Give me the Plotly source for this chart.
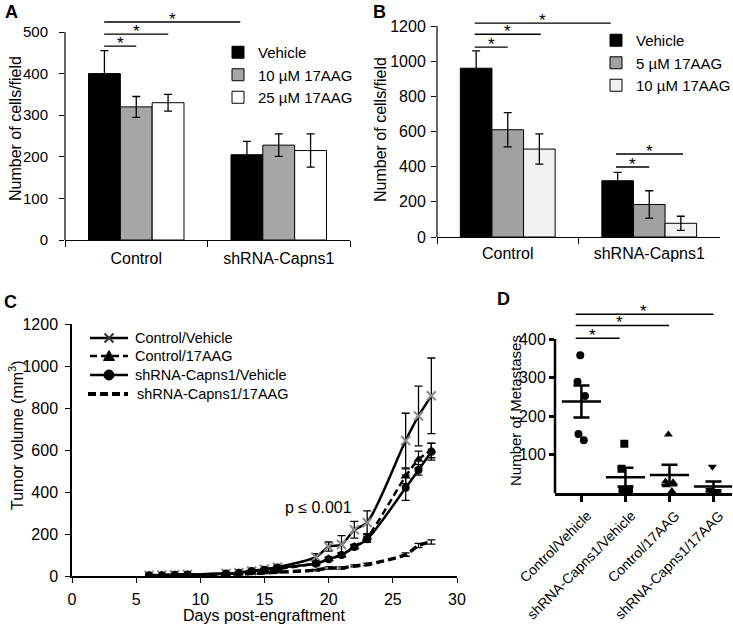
import plotly.graph_objects as go
import numpy as np

W, H = 733, 624
FONT = "Arial, Liberation Sans, sans-serif"

# ---------------- Panel A data ----------------
a_groups = ["Control", "shRNA-Capns1"]
a_names = ["Vehicle", "10 µM 17AAG", "25 µM 17AAG"]
a_vehicle = [400, 205]
a_vehicle_err = [55, 32]
a_10 = [320, 228]
a_10_err = [25, 27]
a_25 = [330, 215]
a_25_err = [20, 40]
a_sig_x0 = [-0.225, -0.225, -0.225]
a_sig_x1 = [0.0, 0.225, 0.73]
a_sig_y = [466, 495, 524]
a_yticks = [0, 100, 200, 300, 400, 500]

# ---------------- Panel B data ----------------
b_groups = ["Control", "shRNA-Capns1"]
b_names = ["Vehicle", "5 µM 17AAG", "10 µM 17AAG"]
b_vehicle = [960, 320]
b_vehicle_err = [98, 48]
b_5 = [610, 185]
b_5_err = [97, 78]
b_10 = [500, 78]
b_10_err = [86, 40]
b_sig_x0 = [-0.233, -0.233, -0.233, 0.765, 0.765]
b_sig_x1 = [0.0, 0.233, 0.728, 1.0, 1.238]
b_sig_y = [1080, 1153, 1216, 398, 472]
b_yticks = [0, 200, 400, 600, 800, 1000, 1200]

# ---------------- Panel C data ----------------
c_names = ["Control/Vehicle", "Control/17AAG", "shRNA-Capns1/Vehicle", "shRNA-Capns1/17AAG"]
c_days = [6, 7, 8, 9, 12, 13, 14, 15, 16, 19, 20, 21, 22, 23, 26, 27, 28]
c_ctrl_veh = [3, 4, 6, 7, 12, 16, 24, 32, 42, 90, 140, 150, 220, 255, 645, 762, 858]
c_ctrl_veh_err = [3, 3, 3, 3, 4, 5, 8, 10, 10, 16, 22, 42, 40, 55, 130, 142, 180]
c_ctrl_17 = [2, 3, 5, 6, 10, 14, 20, 26, 32, 62, 82, 100, 140, 185, 475, 555, 598]
c_ctrl_17_err = [1, 1, 2, 2, 3, 3, 4, 5, 5, 8, 8, 10, 10, 15, 35, 40, 35]
c_sh_veh = [3, 4, 6, 7, 12, 16, 24, 30, 40, 58, 80, 100, 138, 175, 420, 505, 592]
c_sh_veh_err = [1, 1, 2, 2, 3, 3, 4, 5, 5, 8, 8, 10, 10, 15, 60, 25, 40]
c_sh_17 = [2, 3, 4, 5, 8, 10, 12, 14, 18, 28, 38, 38, 48, 55, 102, 145, 162]
c_sh_17_err = [1, 1, 1, 1, 2, 2, 2, 3, 3, 4, 5, 5, 5, 6, 8, 10, 10]
c_xticks = [0, 5, 10, 15, 20, 25, 30]
c_yticks = [0, 200, 400, 600, 800, 1000, 1200]

# ---------------- Panel D data ----------------
d_groups = ["Control/Vehicle", "shRNA-Capns1/Vehicle", "Control/17AAG", "shRNA-Capns1/17AAG"]
d_ctrl_veh = [358, 289, 252, 153, 137]
d_sh_veh = [128, 63, 10, 5, 0]
d_ctrl_17 = [152, 30, 28, 20, 5]
d_sh_17 = [68, 8, 5, 4, 0]
d_symbols = ["circle", "square", "triangle-up", "triangle-down"]
d_sig_x0 = [-0.13, -0.13, -0.13]
d_sig_x1 = [0.87, 1.99, 3.0]
d_sig_y = [402, 435, 464]
d_star_x = [0.26, 0.87, 1.40]
d_yticks = [100, 200, 300, 400]


def xd(a, b):
    return [a / W, b / W]


def yd(top, bottom):
    return [1 - bottom / H, 1 - top / H]


def px(x):
    return x / W


def py(y):
    return 1 - y / H


# pixel geometry of each panel (plot area)
A_x = (65, 350); A_zero = 240; A_scale = 208 / 500; A_top = 540
B_x = (437, 720); B_zero = 237; B_scale = 211 / 1200; B_top = 1280
C_x = (72, 457); C_y = (324, 576)
D_x = (555, 732); D_zero = 493; D_scale = 154 / 400; D_top = 500

fig = go.Figure()

err = lambda arr, w=4, t=1.3: dict(type="data", array=arr, color="black", thickness=t, width=w, visible=True)

# ---- A bars
for name, vals, e, col in zip(a_names, [a_vehicle, a_10, a_25], [a_vehicle_err, a_10_err, a_25_err],
                              ["black", "#a6a6a6", "white"]):
    fig.add_trace(go.Bar(x=a_groups, y=vals, name=name, error_y=err(e),
                         marker=dict(color=col, line=dict(color="black", width=1)),
                         xaxis="x", yaxis="y", legend="legend"))

# ---- B bars
for name, vals, e, col in zip(b_names, [b_vehicle, b_5, b_10], [b_vehicle_err, b_5_err, b_10_err],
                              ["black", "#a0a0a0", "#f2f2f2"]):
    fig.add_trace(go.Bar(x=b_groups, y=vals, name=name, error_y=err(e),
                         marker=dict(color=col, line=dict(color="black", width=1)),
                         xaxis="x2", yaxis="y2", legend="legend2"))

# ---- C lines
DASH1 = "7px,4px"
DASH2 = "8px,4px"
c_specs = [
    (c_ctrl_veh, c_ctrl_veh_err, "solid", 2.5, "lines+markers",
     dict(symbol="x-thin", size=9, line=dict(width=2, color="#8a8a8a"), color="#8a8a8a")),
    (c_ctrl_17, c_ctrl_17_err, DASH1, 2.5, "lines+markers",
     dict(symbol="triangle-up", size=9, color="black")),
    (c_sh_veh, c_sh_veh_err, "solid", 2.5, "lines+markers",
     dict(symbol="circle", size=8, color="black")),
    (c_sh_17, c_sh_17_err, DASH2, 3.5, "lines",
     dict(size=4, color="black")),
]
for name, (vals, e, dash, lw, mode, mk) in zip(c_names, c_specs):
    fig.add_trace(go.Scatter(x=c_days, y=vals, name=name, mode=mode, showlegend=False,
                             line=dict(color="black", width=lw, dash=dash, shape="spline", smoothing=0.8),
                             marker=mk, error_y=err(e, w=4, t=1.3),
                             xaxis="x3", yaxis="y3"))

# ---- D scatter
d_all = [d_ctrl_veh, d_sh_veh, d_ctrl_17, d_sh_17]
for g, vals, sym in zip(d_groups, d_all, d_symbols):
    fig.add_trace(go.Box(x=[g] * len(vals), y=vals, boxpoints="all", jitter=0.6, pointpos=0,
                         width=0.35, fillcolor="rgba(0,0,0,0)",
                         line=dict(color="rgba(0,0,0,0)", width=0), whiskerwidth=0,
                         marker=dict(symbol=sym, color="black", size=8),
                         showlegend=False, hoverinfo="skip", xaxis="x4", yaxis="y4"))
d_means = [float(np.mean(v)) for v in d_all]
d_sems = [float(np.std(v, ddof=1) / np.sqrt(len(v))) for v in d_all]
fig.add_trace(go.Scatter(x=d_groups, y=d_means, mode="markers", showlegend=False,
                         marker=dict(symbol="line-ew", size=28, color="black",
                                     line=dict(width=2.5, color="black")),
                         error_y=err(d_sems, w=8, t=2.5), xaxis="x4", yaxis="y4"))

shapes = []
annotations = []


def sig(xr, yr, x0s, x1s, ys, star_xs=None, lw=1.3):
    for i, (x0, x1, y) in enumerate(zip(x0s, x1s, ys)):
        shapes.append(dict(type="line", xref=xr, yref=yr, x0=x0, x1=x1, y0=y, y1=y,
                           line=dict(color="black", width=lw)))
        sx = star_xs[i] if star_xs else (x0 + x1) / 2
        annotations.append(dict(text="*", xref=xr, yref=yr, x=sx, y=y, yanchor="middle",
                                yshift=3, showarrow=False, font=dict(size=17)))


sig("x", "y", a_sig_x0, a_sig_x1, a_sig_y)
sig("x2", "y2", b_sig_x0, b_sig_x1, b_sig_y)
sig("x4", "y4", d_sig_x0, d_sig_x1, d_sig_y, d_star_x, lw=1.5)

# y-axis lines that stop at the top tick
shapes.append(dict(type="line", xref="x domain", yref="y", x0=0, x1=0, y0=0, y1=a_yticks[-1],
                   line=dict(color="black", width=1.2)))
shapes.append(dict(type="line", xref="x2 domain", yref="y2", x0=0, x1=0, y0=0, y1=b_yticks[-1],
                   line=dict(color="black", width=1.2)))
shapes.append(dict(type="line", xref="x4 domain", yref="y4", x0=0, x1=0, y0=0, y1=d_yticks[-1],
                   line=dict(color="black", width=2.5)))

# ---- hand-built legend for panel C (tighter rows than Plotly's legend)
leg_rows = [338, 356, 375, 394]
leg_x0, leg_x1, leg_text = 90, 128, 133
mid = (leg_x0 + leg_x1) / 2
line_styles = [("solid", 2.5), (DASH1, 2.5), ("solid", 2.5), (DASH2, 4)]
for name, ry, (dash, lw) in zip(c_names, leg_rows, line_styles):
    x0 = leg_x0 - (2 if lw > 3 else 0)
    shapes.append(dict(type="line", xref="paper", yref="paper", x0=px(x0), x1=px(leg_x1),
                       y0=py(ry), y1=py(ry), line=dict(color="black", width=lw, dash=dash)))
    annotations.append(dict(text=name, xref="paper", yref="paper",
                            x=px(leg_text + (2 if lw > 3 else 0)), y=py(ry),
                            xanchor="left", yanchor="middle", showarrow=False, font=dict(size=14.5)))
r = 4.5
# x marker
for a, b in [((-r, -r), (r, r)), ((-r, r), (r, -r))]:
    shapes.append(dict(type="line", xref="paper", yref="paper", x0=px(mid + a[0]), x1=px(mid + b[0]),
                       y0=py(leg_rows[0] + a[1]), y1=py(leg_rows[0] + b[1]),
                       line=dict(color="#333333", width=2)))
# triangle marker
tri = "M %f,%f L %f,%f L %f,%f Z" % (px(mid - 5.5), py(leg_rows[1] + 4.5), px(mid + 5.5), py(leg_rows[1] + 4.5),
                                     px(mid), py(leg_rows[1] - 5.5))
shapes.append(dict(type="path", xref="paper", yref="paper", path=tri, fillcolor="black",
                   line=dict(color="black", width=1)))
# circle marker
shapes.append(dict(type="circle", xref="paper", yref="paper", x0=px(mid - 5), x1=px(mid + 5),
                   y0=py(leg_rows[2] + 5), y1=py(leg_rows[2] - 5), fillcolor="black",
                   line=dict(color="black", width=1)))


def ytitle(text, x, y, size=16):
    annotations.append(dict(text=text, xref="paper", yref="paper", x=px(x), y=py(y),
                            textangle=-90, showarrow=False, xanchor="center", yanchor="middle",
                            font=dict(size=size)))


ytitle("Number of cells/field", 16, 129)
ytitle("Number of cells/field", 380, 130)
ytitle("Tumor volume (mm<sup>3</sup>)", 16, 435)
ytitle("Number of Metastases", 515, 411, 15)
annotations.append(dict(text="Days post-engraftment", xref="paper", yref="paper", x=px(264),
                        y=py(615), showarrow=False, xanchor="center", yanchor="middle",
                        font=dict(size=16)))
annotations.append(dict(text="p ≤ 0.001", xref="x3", yref="y3", x=19.2, y=325, showarrow=False,
                        xanchor="center", yanchor="middle", font=dict(size=16)))
for lab, lx, ly, anc in [("A", 11, 0, "top"), ("B", 379, 0, "top"), ("C", 10, 302, "middle"),
                         ("D", 503, 299, "middle")]:
    annotations.append(dict(text="<b>%s</b>" % lab, xref="paper", yref="paper", x=px(lx), y=py(ly),
                            showarrow=False, xanchor="center", yanchor=anc, font=dict(size=18)))

common_ax = dict(showgrid=False, zeroline=False, ticks="outside", tickcolor="black",
                 color="black", linecolor="black", automargin=False)

fig.update_layout(
    template="none",
    width=W, height=H, margin=dict(l=0, r=0, t=0, b=0, autoexpand=False),
    paper_bgcolor="white", plot_bgcolor="white",
    font=dict(family=FONT, color="black", size=16),
    barmode="group", bargap=0.33, bargroupgap=0,
    shapes=shapes, annotations=annotations,
    xaxis=dict(common_ax, domain=xd(*A_x), anchor="y", type="category", tickson="boundaries",
               range=[-0.5, 1.5], ticklen=6, tickwidth=1.2, showline=True, linewidth=1.2,
               tickfont=dict(size=16), ticklabelstandoff=4),
    yaxis=dict(common_ax, domain=yd(A_zero - A_top * A_scale, A_zero), anchor="x",
               range=[0, A_top], tickvals=a_yticks, ticklen=5, tickwidth=1.2, showline=False,
               tickfont=dict(size=15), ticklabelstandoff=8),
    xaxis2=dict(common_ax, domain=xd(*B_x), anchor="y2", type="category", tickson="boundaries",
                range=[-0.5, 1.5], ticklen=6, tickwidth=1.2, showline=True, linewidth=1.2,
                tickfont=dict(size=16), ticklabelstandoff=2),
    yaxis2=dict(common_ax, domain=yd(B_zero - B_top * B_scale, B_zero), anchor="x2",
                range=[0, B_top], tickvals=b_yticks, ticklen=5, tickwidth=1.2, showline=False,
                tickfont=dict(size=16), ticklabelstandoff=2),
    xaxis3=dict(common_ax, domain=xd(*C_x), anchor="y3", range=[0, 30], tickvals=c_xticks,
                ticklen=5, tickwidth=1.2, showline=True, linewidth=1.5,
                tickfont=dict(size=16), ticklabelstandoff=3),
    yaxis3=dict(common_ax, domain=yd(*C_y), anchor="x3", range=[0, 1200], tickvals=c_yticks,
                ticklen=5, tickwidth=1.2, showline=True, linewidth=1.5,
                tickfont=dict(size=16), ticklabelstandoff=4),
    xaxis4=dict(common_ax, domain=xd(*D_x), anchor="y4", type="category",
                categoryorder="array", categoryarray=d_groups, range=[-0.6, 3.42],
                tickangle=-45, ticklen=6, tickwidth=2.5, showline=True, linewidth=3,
                tickfont=dict(size=14), ticklabelshift=6),
    yaxis4=dict(common_ax, domain=yd(D_zero - D_top * D_scale, D_zero), anchor="x4",
                range=[0, D_top], tickvals=d_yticks, ticklen=5, tickwidth=2.5, showline=False,
                tickfont=dict(size=16), ticklabelstandoff=0),
    legend=dict(x=px(218), y=py(36), xanchor="left", yanchor="top", font=dict(size=15),
                bgcolor="rgba(0,0,0,0)", itemwidth=30, tracegroupgap=0),
    legend2=dict(x=px(596), y=py(24), xanchor="left", yanchor="top", font=dict(size=15),
                 bgcolor="rgba(0,0,0,0)", itemwidth=30, tracegroupgap=0),
    showlegend=True,
)

fig.write_html("out.html", config={"displayModeBar": False},
               post_script="document.body.style.margin='0px';")
